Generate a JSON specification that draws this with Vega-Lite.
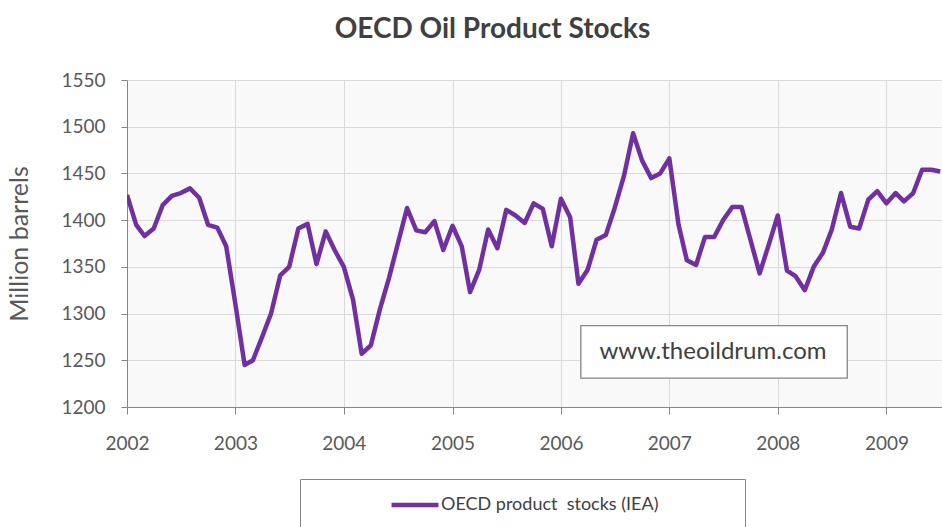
{
  "$schema": "https://vega.github.io/schema/vega-lite/v6.json",
  "width": 815,
  "height": 327,
  "autosize": {"type": "none"},
  "padding": {"left": 127, "top": 80, "right": 0, "bottom": 120},
  "background": "white",
  "title": {
    "text": "OECD Oil Product Stocks",
    "fontSize": 28,
    "fontWeight": "bold",
    "font": "Lato",
    "color": "#404040",
    "anchor": "middle",
    "dx": -42,
    "offset": 27
  },
  "config": {
    "view": {"stroke": null, "fill": "#f9f9f9"},
    "axis": {
      "labelFont": "Lato",
      "titleFont": "Lato",
      "labelColor": "#595959",
      "titleColor": "#595959",
      "labelFontSize": 19,
      "gridColor": "#d9d9d9",
      "gridWidth": 1,
      "domainColor": "#868686",
      "tickColor": "#868686"
    }
  },
  "datasets": {
    "stocks": [
      {"date": "2002-01-01", "value": 1427, "series": "OECD product  stocks (IEA)"},
      {"date": "2002-02-01", "value": 1395, "series": "OECD product  stocks (IEA)"},
      {"date": "2002-03-01", "value": 1383, "series": "OECD product  stocks (IEA)"},
      {"date": "2002-04-01", "value": 1391, "series": "OECD product  stocks (IEA)"},
      {"date": "2002-05-01", "value": 1416, "series": "OECD product  stocks (IEA)"},
      {"date": "2002-06-01", "value": 1426, "series": "OECD product  stocks (IEA)"},
      {"date": "2002-07-01", "value": 1429, "series": "OECD product  stocks (IEA)"},
      {"date": "2002-08-01", "value": 1434, "series": "OECD product  stocks (IEA)"},
      {"date": "2002-09-01", "value": 1424, "series": "OECD product  stocks (IEA)"},
      {"date": "2002-10-01", "value": 1395, "series": "OECD product  stocks (IEA)"},
      {"date": "2002-11-01", "value": 1392, "series": "OECD product  stocks (IEA)"},
      {"date": "2002-12-01", "value": 1372, "series": "OECD product  stocks (IEA)"},
      {"date": "2003-01-01", "value": 1310, "series": "OECD product  stocks (IEA)"},
      {"date": "2003-02-01", "value": 1245, "series": "OECD product  stocks (IEA)"},
      {"date": "2003-03-01", "value": 1250, "series": "OECD product  stocks (IEA)"},
      {"date": "2003-04-01", "value": 1275, "series": "OECD product  stocks (IEA)"},
      {"date": "2003-05-01", "value": 1300, "series": "OECD product  stocks (IEA)"},
      {"date": "2003-06-01", "value": 1341, "series": "OECD product  stocks (IEA)"},
      {"date": "2003-07-01", "value": 1350, "series": "OECD product  stocks (IEA)"},
      {"date": "2003-08-01", "value": 1391, "series": "OECD product  stocks (IEA)"},
      {"date": "2003-09-01", "value": 1396, "series": "OECD product  stocks (IEA)"},
      {"date": "2003-10-01", "value": 1353, "series": "OECD product  stocks (IEA)"},
      {"date": "2003-11-01", "value": 1388, "series": "OECD product  stocks (IEA)"},
      {"date": "2003-12-01", "value": 1368, "series": "OECD product  stocks (IEA)"},
      {"date": "2004-01-01", "value": 1350, "series": "OECD product  stocks (IEA)"},
      {"date": "2004-02-01", "value": 1315, "series": "OECD product  stocks (IEA)"},
      {"date": "2004-03-01", "value": 1257, "series": "OECD product  stocks (IEA)"},
      {"date": "2004-04-01", "value": 1266, "series": "OECD product  stocks (IEA)"},
      {"date": "2004-05-01", "value": 1304, "series": "OECD product  stocks (IEA)"},
      {"date": "2004-06-01", "value": 1338, "series": "OECD product  stocks (IEA)"},
      {"date": "2004-07-01", "value": 1375, "series": "OECD product  stocks (IEA)"},
      {"date": "2004-08-01", "value": 1413, "series": "OECD product  stocks (IEA)"},
      {"date": "2004-09-01", "value": 1389, "series": "OECD product  stocks (IEA)"},
      {"date": "2004-10-01", "value": 1387, "series": "OECD product  stocks (IEA)"},
      {"date": "2004-11-01", "value": 1399, "series": "OECD product  stocks (IEA)"},
      {"date": "2004-12-01", "value": 1368, "series": "OECD product  stocks (IEA)"},
      {"date": "2005-01-01", "value": 1394, "series": "OECD product  stocks (IEA)"},
      {"date": "2005-02-01", "value": 1372, "series": "OECD product  stocks (IEA)"},
      {"date": "2005-03-01", "value": 1323, "series": "OECD product  stocks (IEA)"},
      {"date": "2005-04-01", "value": 1347, "series": "OECD product  stocks (IEA)"},
      {"date": "2005-05-01", "value": 1390, "series": "OECD product  stocks (IEA)"},
      {"date": "2005-06-01", "value": 1370, "series": "OECD product  stocks (IEA)"},
      {"date": "2005-07-01", "value": 1411, "series": "OECD product  stocks (IEA)"},
      {"date": "2005-08-01", "value": 1405, "series": "OECD product  stocks (IEA)"},
      {"date": "2005-09-01", "value": 1397, "series": "OECD product  stocks (IEA)"},
      {"date": "2005-10-01", "value": 1418, "series": "OECD product  stocks (IEA)"},
      {"date": "2005-11-01", "value": 1412, "series": "OECD product  stocks (IEA)"},
      {"date": "2005-12-01", "value": 1372, "series": "OECD product  stocks (IEA)"},
      {"date": "2006-01-01", "value": 1423, "series": "OECD product  stocks (IEA)"},
      {"date": "2006-02-01", "value": 1403, "series": "OECD product  stocks (IEA)"},
      {"date": "2006-03-01", "value": 1332, "series": "OECD product  stocks (IEA)"},
      {"date": "2006-04-01", "value": 1347, "series": "OECD product  stocks (IEA)"},
      {"date": "2006-05-01", "value": 1379, "series": "OECD product  stocks (IEA)"},
      {"date": "2006-06-01", "value": 1384, "series": "OECD product  stocks (IEA)"},
      {"date": "2006-07-01", "value": 1413, "series": "OECD product  stocks (IEA)"},
      {"date": "2006-08-01", "value": 1447, "series": "OECD product  stocks (IEA)"},
      {"date": "2006-09-01", "value": 1493, "series": "OECD product  stocks (IEA)"},
      {"date": "2006-10-01", "value": 1464, "series": "OECD product  stocks (IEA)"},
      {"date": "2006-11-01", "value": 1445, "series": "OECD product  stocks (IEA)"},
      {"date": "2006-12-01", "value": 1450, "series": "OECD product  stocks (IEA)"},
      {"date": "2007-01-01", "value": 1466, "series": "OECD product  stocks (IEA)"},
      {"date": "2007-02-01", "value": 1395, "series": "OECD product  stocks (IEA)"},
      {"date": "2007-03-01", "value": 1357, "series": "OECD product  stocks (IEA)"},
      {"date": "2007-04-01", "value": 1352, "series": "OECD product  stocks (IEA)"},
      {"date": "2007-05-01", "value": 1382, "series": "OECD product  stocks (IEA)"},
      {"date": "2007-06-01", "value": 1382, "series": "OECD product  stocks (IEA)"},
      {"date": "2007-07-01", "value": 1400, "series": "OECD product  stocks (IEA)"},
      {"date": "2007-08-01", "value": 1414, "series": "OECD product  stocks (IEA)"},
      {"date": "2007-09-01", "value": 1414, "series": "OECD product  stocks (IEA)"},
      {"date": "2007-10-01", "value": 1379, "series": "OECD product  stocks (IEA)"},
      {"date": "2007-11-01", "value": 1343, "series": "OECD product  stocks (IEA)"},
      {"date": "2007-12-01", "value": 1373, "series": "OECD product  stocks (IEA)"},
      {"date": "2008-01-01", "value": 1405, "series": "OECD product  stocks (IEA)"},
      {"date": "2008-02-01", "value": 1346, "series": "OECD product  stocks (IEA)"},
      {"date": "2008-03-01", "value": 1340, "series": "OECD product  stocks (IEA)"},
      {"date": "2008-04-01", "value": 1325, "series": "OECD product  stocks (IEA)"},
      {"date": "2008-05-01", "value": 1350, "series": "OECD product  stocks (IEA)"},
      {"date": "2008-06-01", "value": 1365, "series": "OECD product  stocks (IEA)"},
      {"date": "2008-07-01", "value": 1390, "series": "OECD product  stocks (IEA)"},
      {"date": "2008-08-01", "value": 1429, "series": "OECD product  stocks (IEA)"},
      {"date": "2008-09-01", "value": 1393, "series": "OECD product  stocks (IEA)"},
      {"date": "2008-10-01", "value": 1391, "series": "OECD product  stocks (IEA)"},
      {"date": "2008-11-01", "value": 1422, "series": "OECD product  stocks (IEA)"},
      {"date": "2008-12-01", "value": 1431, "series": "OECD product  stocks (IEA)"},
      {"date": "2009-01-01", "value": 1418, "series": "OECD product  stocks (IEA)"},
      {"date": "2009-02-01", "value": 1429, "series": "OECD product  stocks (IEA)"},
      {"date": "2009-03-01", "value": 1420, "series": "OECD product  stocks (IEA)"},
      {"date": "2009-04-01", "value": 1429, "series": "OECD product  stocks (IEA)"},
      {"date": "2009-05-01", "value": 1454, "series": "OECD product  stocks (IEA)"},
      {"date": "2009-06-01", "value": 1454, "series": "OECD product  stocks (IEA)"},
      {"date": "2009-07-01", "value": 1452, "series": "OECD product  stocks (IEA)"}
    ],
    "note": [
      {"start": "2006-03-09", "end": "2008-08-22", "low": 1231, "high": 1287, "mid": "2007-05-28", "center": 1259, "label": "www.theoildrum.com"}
    ]
  },
  "layer": [
    {
      "data": {"name": "stocks"},
      "mark": {"type": "line", "strokeWidth": 4.5, "clip": true, "strokeJoin": "round"},
      "encoding": {
        "x": {
          "field": "date",
          "type": "temporal",
          "scale": {"type": "utc", "domain": [{"year": 2002, "month": 1, "date": 1, "utc": true}, {"year": 2009, "month": 7, "date": 7, "utc": true}]},
          "axis": {
            "title": null,
            "format": "%Y",
            "formatType": "utc",
            "values": [
              {"year": 2002, "month": 1, "date": 1, "utc": true},
              {"year": 2003, "month": 1, "date": 1, "utc": true},
              {"year": 2004, "month": 1, "date": 1, "utc": true},
              {"year": 2005, "month": 1, "date": 1, "utc": true},
              {"year": 2006, "month": 1, "date": 1, "utc": true},
              {"year": 2007, "month": 1, "date": 1, "utc": true},
              {"year": 2008, "month": 1, "date": 1, "utc": true},
              {"year": 2009, "month": 1, "date": 1, "utc": true}
            ],
            "tickSize": 7,
            "labelPadding": 20,
            "labelFlush": false,
            "labelOverlap": false
          }
        },
        "y": {
          "field": "value",
          "type": "quantitative",
          "scale": {"domain": [1200, 1550], "nice": false, "zero": false},
          "axis": {
            "title": "Million barrels",
            "titleFontSize": 25,
            "titleFontWeight": "normal",
            "titlePadding": 28,
            "format": "d",
            "values": [1200, 1250, 1300, 1350, 1400, 1450, 1500, 1550],
            "tickSize": 6,
            "labelPadding": 16
          }
        },
        "color": {
          "field": "series",
          "type": "nominal",
          "scale": {"range": ["#7030A0"]},
          "legend": {
            "orient": "none",
            "legendX": 173,
            "legendY": 399,
            "direction": "horizontal",
            "title": " ",
            "titleOrient": "right",
            "titlePadding": 71,
            "symbolType": "stroke",
            "symbolStrokeWidth": 4.5,
            "symbolSize": 2200,
            "symbolOffset": 73,
            "clipHeight": 20,
            "labelOffset": 0,
            "padding": 16,
            "strokeColor": "#868686",
            "fillColor": "white",
            "labelFontSize": 18,
            "labelColor": "#404040",
            "labelFont": "Lato",
            "labelLimit": 400,
            "labelExpr": "replace(datum.label, '  ', ' \u00a0')"
          }
        }
      }
    },
    {
      "data": {"name": "note"},
      "mark": {"type": "rect", "fill": "white", "stroke": "#868686", "strokeWidth": 1.3},
      "encoding": {
        "x": {"field": "start", "type": "temporal"},
        "x2": {"field": "end"},
        "y": {"field": "low", "type": "quantitative"},
        "y2": {"field": "high"}
      }
    },
    {
      "data": {"name": "note"},
      "mark": {"type": "text", "font": "Lato", "fontSize": 24, "color": "#404040", "align": "center", "baseline": "middle"},
      "encoding": {
        "x": {"field": "mid", "type": "temporal"},
        "y": {"field": "center", "type": "quantitative"},
        "text": {"field": "label"}
      }
    }
  ]
}
